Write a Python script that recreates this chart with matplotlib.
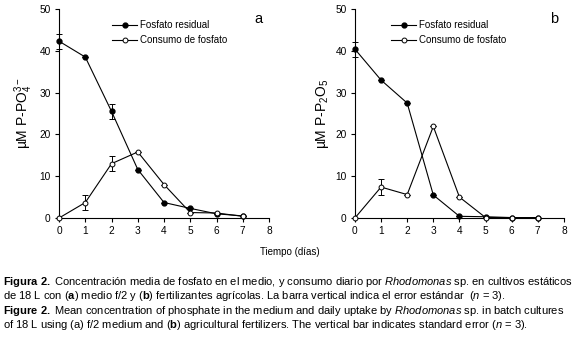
import matplotlib.pyplot as plt
from matplotlib import font_manager

# fonte estreita tipo Arial Narrow, se existir
nomes = {f.name for f in font_manager.fontManager.ttflist}
fonte = 'Liberation Sans Narrow' if 'Liberation Sans Narrow' in nomes else 'Liberation Sans'
plt.rcParams['font.family'] = [fonte, 'DejaVu Sans']
plt.rcParams['mathtext.fontset'] = 'custom'
plt.rcParams['mathtext.rm'] = 'Liberation Sans'
plt.rcParams['mathtext.it'] = 'Liberation Sans:italic'
plt.rcParams['mathtext.bf'] = 'Liberation Sans:bold'

# Dados
dias = [0, 1, 2, 3, 4, 5, 6, 7]

resid_a = [42.3, 38.5, 25.5, 11.6, 3.7, 2.3, 1.0, 0.5]
resid_a_err = [1.8, 0, 1.8, 0, 0, 0, 0, 0]
cons_a = [0, 3.7, 13.0, 15.8, 8.0, 1.3, 1.2, 0.4]
cons_a_err = [0, 1.9, 1.8, 0, 0, 0, 0, 0]

resid_b = [40.4, 33.0, 27.5, 5.5, 0.4, 0.3, 0.1, 0.1]
resid_b_err = [1.8, 0, 0, 0, 0, 0, 0, 0]
cons_b = [0, 7.4, 5.6, 21.9, 5.0, 0.1, 0.1, 0.1]
cons_b_err = [0, 1.9, 0, 0, 0, 0, 0, 0]

painel_letras = ['a', 'b']
ylabels = [r'µM P-PO$_4^{3-}$', r'µM P-P$_2$O$_5$']

fig = plt.figure(figsize=(5.79, 3.42), dpi=100)
ax1 = fig.add_axes([0.102, 0.3626, 0.3626, 0.611])
ax2 = fig.add_axes([0.613, 0.3626, 0.361, 0.611])

series = [(resid_a, resid_a_err, cons_a, cons_a_err),
          (resid_b, resid_b_err, cons_b, cons_b_err)]
leg_x = [0.225, 0.145]

for ax, (r, re, c, ce), letra, ylab, lx in zip([ax1, ax2], series, painel_letras, ylabels, leg_x):
    ax.errorbar(dias, r, yerr=re, fmt='none', ecolor='black', capsize=2.5,
                elinewidth=0.7, capthick=0.7, clip_on=False)
    ax.errorbar(dias, c, yerr=ce, fmt='none', ecolor='black', capsize=2.5,
                elinewidth=0.7, capthick=0.7, clip_on=False)
    ax.plot(dias, r, color='black', lw=0.8, marker='o', ms=3.5, mfc='black',
            mec='black', label='Fosfato residual', clip_on=False, zorder=3)
    ax.plot(dias, c, color='black', lw=0.8, marker='o', ms=3.5, mfc='white',
            mec='black', mew=0.7, label='Consumo de fosfato', clip_on=False, zorder=4)
    ax.set_xlim(0, 8)
    ax.set_ylim(0, 50)
    ax.set_xticks(range(0, 9))
    ax.set_yticks([0, 10, 20, 30, 40, 50])
    ax.spines['top'].set_visible(False)
    ax.spines['right'].set_visible(False)
    ax.spines['left'].set_linewidth(0.8)
    ax.spines['bottom'].set_linewidth(0.8)
    ax.tick_params(direction='out', length=3, width=0.8, labelsize=7.3, pad=3)
    ax.set_ylabel(ylab, fontsize=10, family=['Liberation Sans', 'DejaVu Sans'], labelpad=3)
    ax.text(0.97, 0.92, letra, transform=ax.transAxes, fontsize=10.5,
            family=['Liberation Sans', 'DejaVu Sans'], ha='right', va='bottom')
    ax.legend(loc='upper left', bbox_to_anchor=(lx, 0.975), frameon=False,
              fontsize=7, handlelength=2.6, handletextpad=0.3,
              labelspacing=0.5, borderaxespad=0.2)

fig.text(0.5, 0.262, 'Tiempo (días)', ha='center', va='center', fontsize=7)

# Legenda da figura
linhas = [
    r'$\mathbf{Figura\ 2.}$ Concentración media de fosfato en el medio, y consumo diario por $\mathit{Rhodomonas}$ sp. en cultivos estáticos',
    r'de 18 L con ($\mathbf{a}$) medio f/2 y ($\mathbf{b}$) fertilizantes agrícolas. La barra vertical indica el error estándar  ($\mathit{n}$ = 3).',
    r'$\mathbf{Figure\ 2.}$ Mean concentration of phosphate in the medium and daily uptake by $\mathit{Rhodomonas}$ sp. in batch cultures',
    r'of 18 L using (a) f/2 medium and ($\mathbf{b}$) agricultural fertilizers. The vertical bar indicates standard error ($\mathit{n}$ = 3).',
]
ys = [282, 296, 311, 325]
for t, y in zip(linhas, ys):
    fig.text(3 / 579, 1 - y / 342, t, ha='left', va='center', fontsize=8.05,
             family=['Liberation Sans', 'DejaVu Sans'])

fig.savefig('out.png', dpi=100)
